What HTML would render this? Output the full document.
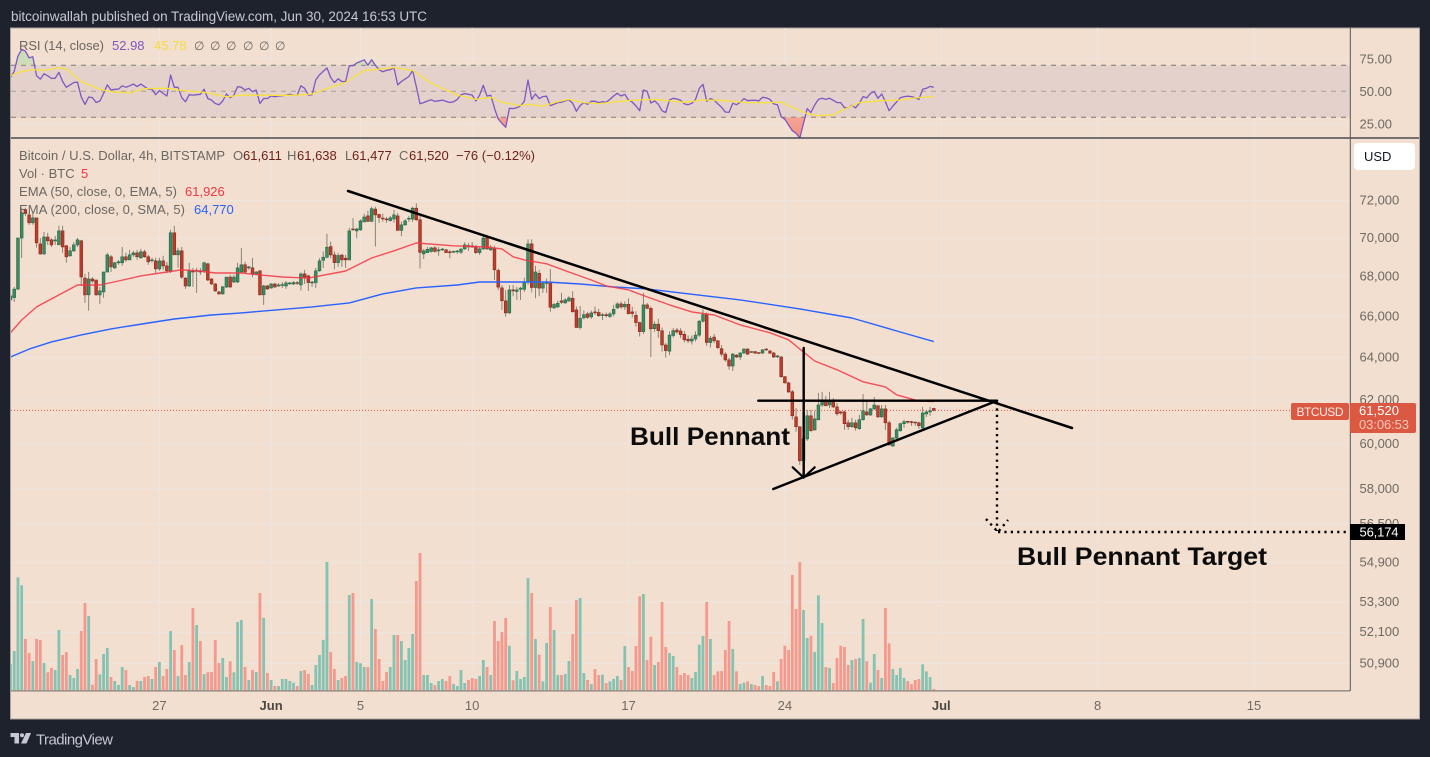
<!DOCTYPE html>
<html lang="en">
<head>
<meta charset="utf-8">
<title>BTCUSD Bull Pennant</title>
<style>
html,body{margin:0;padding:0;background:#1e222d;width:1430px;height:757px;overflow:hidden}
svg{display:block;font-family:"Liberation Sans",sans-serif}
text{white-space:pre}
</style>
</head>
<body>
<svg id="chart" xmlns="http://www.w3.org/2000/svg" width="1430" height="757" viewBox="0 0 1430 757">
  <defs>
    <clipPath id="rsi-clip"><rect x="11" y="28" width="1339" height="110"/></clipPath>
    <clipPath id="price-clip"><rect x="11" y="138" width="1339" height="553"/></clipPath>
    <clipPath id="rsi-over"><rect x="11" y="28" width="1339" height="37.3"/></clipPath>
    <clipPath id="rsi-under"><rect x="11" y="117.3" width="1339" height="21"/></clipPath>
    <linearGradient id="over-grad" x1="0" y1="0" x2="0" y2="1"><stop offset="0" stop-color="#a9d9a0" stop-opacity=".55"/><stop offset="1" stop-color="#a9d9a0" stop-opacity=".08"/></linearGradient>
    <linearGradient id="under-grad" x1="0" y1="0" x2="0" y2="1"><stop offset="0" stop-color="#f7a79c" stop-opacity=".15"/><stop offset="1" stop-color="#f4806f" stop-opacity=".85"/></linearGradient>
  </defs>

  <rect x="0" y="0" width="1430" height="757" fill="#1e222d"/>
  <text x="11" y="21" font-size="13.5" fill="#c6c9d2" textLength="416">bitcoinwallah published on TradingView.com, Jun 30, 2024 16:53 UTC</text>
  <rect x="10.5" y="28" width="1409" height="691" fill="#f2dfcf" stroke="#a9a39d" stroke-width="1"/>

  <g id="grid"></g>
  <rect x="11" y="65.3" width="1339" height="52" fill="#e5d1cb"/>
  <g id="rsi-levels"></g>
  <g id="rsi-pane" clip-path="url(#rsi-clip)"></g>

  <g font-size="13">
    <text x="19" y="50" fill="#6b6763" textLength="85">RSI (14, close)</text>
    <text x="112" y="50" fill="#7e57c2">52.98</text>
    <text x="154" y="50" fill="#f5dc45">45.78</text>
    <text x="194" y="50" fill="#6b6763" font-size="12">∅</text>
    <text x="210" y="50" fill="#6b6763" font-size="12">∅</text>
    <text x="226" y="50" fill="#6b6763" font-size="12">∅</text>
    <text x="243" y="50" fill="#6b6763" font-size="12">∅</text>
    <text x="259" y="50" fill="#6b6763" font-size="12">∅</text>
    <text x="275" y="50" fill="#6b6763" font-size="12">∅</text>
  </g>

  <g font-size="13" fill="#6b6763">
    <text x="19" y="160" textLength="206">Bitcoin / U.S. Dollar, 4h, BITSTAMP</text>
    <text x="233" y="160">O</text><text x="243" y="160" fill="#6e211b">61,611</text>
    <text x="287" y="160">H</text><text x="297" y="160" fill="#6e211b">61,638</text>
    <text x="345" y="160">L</text><text x="352" y="160" fill="#6e211b">61,477</text>
    <text x="399" y="160">C</text><text x="409" y="160" fill="#6e211b">61,520</text>
    <text x="456" y="160" fill="#6e211b" textLength="79">−76 (−0.12%)</text>
    <text x="19" y="178">Vol · BTC</text><text x="81" y="178" fill="#f23645">5</text>
    <text x="19" y="196" textLength="158">EMA (50, close, 0, EMA, 5)</text><text x="185" y="196" fill="#f23645">61,926</text>
    <text x="19" y="214" textLength="166">EMA (200, close, 0, SMA, 5)</text><text x="194" y="214" fill="#2962ff">64,770</text>
  </g>

  <g id="price-pane" clip-path="url(#price-clip)"></g>

  <line x1="11" y1="690.8" x2="1350" y2="690.8" stroke="#9b928b" stroke-width="1.6"/>
  <line x1="11" y1="138" x2="1419" y2="138" stroke="#2a2e39" stroke-width="1.2"/>
  <line x1="1350.3" y1="28" x2="1350.3" y2="691" stroke="#50565e" stroke-width="1"/>
  <g id="axis-labels"></g>

  <g stroke="#000" stroke-linecap="round" fill="none">
    <line x1="348" y1="191" x2="1072" y2="428" stroke-width="2.5"/>
    <line x1="758.3" y1="400.7" x2="997" y2="400.7" stroke-width="2.4"/>
    <line x1="773.3" y1="489" x2="997" y2="400.7" stroke-width="2.4"/>
    <line x1="803.7" y1="348" x2="803.7" y2="477.5" stroke-width="2.4"/>
    <polyline points="792.7,467.3 803.7,477.5 814.7,467.3" stroke-width="2.2"/>
    <line x1="997" y1="402" x2="997" y2="531" stroke-width="2.4" stroke-dasharray="2.2 4.2" stroke-linecap="butt"/>
    <polyline points="986,519 998,532 1008,520" stroke-width="2.4" stroke-dasharray="2.2 4.2" stroke-linecap="butt"/>
    <line x1="998" y1="532" x2="1350" y2="532" stroke-width="2.4" stroke-dasharray="2.2 4.2" stroke-linecap="butt"/>
  </g>
  <text x="630" y="445" font-size="25" font-weight="700" fill="#0c0c0c" textLength="160" lengthAdjust="spacingAndGlyphs">Bull Pennant</text>
  <text x="1017" y="565" font-size="25" font-weight="700" fill="#0c0c0c" textLength="250" lengthAdjust="spacingAndGlyphs">Bull Pennant Target</text>

  <g>
    <rect x="1291" y="403" width="58" height="17" rx="2" fill="#db5842"/>
    <text x="1296.5" y="416" font-size="12" fill="#fde9e4" textLength="47">BTCUSD</text>
  </g>
  <g>
    <rect x="1350" y="403" width="66" height="30" rx="2" fill="#db5842"/>
    <text x="1359" y="415" font-size="13" fill="#fff" textLength="40">61,520</text>
    <text x="1359" y="429" font-size="13" fill="#f6c9bf" textLength="50">03:06:53</text>
  </g>
  <g>
    <rect x="1350" y="524" width="55" height="16" fill="#000"/>
    <text x="1359.5" y="536.5" font-size="13" fill="#fff" textLength="39">56,174</text>
  </g>
  <g>
    <rect x="1354" y="143" width="61" height="27" rx="4" fill="#fff"/>
    <text x="1364" y="161" font-size="13" fill="#131722">USD</text>
  </g>

  <g fill="#c6c9d2">
    <polygon points="10.5,733 19,733 19,743.5 14.5,743.5 14.5,737 10.5,737"/>
    <circle cx="22" cy="735.2" r="2"/>
    <polygon points="26,733 31,733 26.5,743.5 21,743.5"/>
    <text x="36" y="744.5" font-size="15" textLength="77">TradingView</text>
  </g>

<script>
const opens=[66830,66940,67370,70000,71490,71220,70800,71060,69690,69170,70050,69900,69850,69640,70370,69590,69070,69330,69640,69850,67930,67080,67880,67830,67080,67230,68240,69020,68450,68710,68710,69020,68860,69120,69220,68970,69280,69020,68840,68810,68400,68810,68550,68300,70270,69120,69330,67930,67530,68300,68270,68300,68300,68660,67880,67630,67230,67130,67480,67980,67730,67730,68240,68610,68450,68450,68140,68300,67080,67530,67430,67630,67530,67560,67530,67660,67630,67700,67580,68140,68040,67680,67700,68300,68840,69000,69550,69120,68720,69110,68950,68860,70470,70370,70430,70850,71170,70880,71530,71240,71050,71000,70920,71000,71170,70400,70690,71000,71000,71580,70960,69170,69240,69300,69480,69330,69400,69380,69280,69260,69280,69260,69430,69600,69590,69530,69240,69430,70000,69380,69430,68320,67430,66780,66180,67330,67250,67360,67360,67720,69690,67450,68170,67420,67660,67700,66430,66480,66780,66680,66770,66910,66330,65460,65930,66130,65980,66230,66200,66050,66090,66000,66130,66430,66630,66480,66610,66230,66060,65700,65260,66580,66410,65400,65620,65300,64610,64310,65070,65340,65290,65130,64890,64800,64900,65090,65770,66090,64730,64990,64810,64430,64170,63890,63600,64120,64030,64220,64410,64270,64290,64240,64220,64410,64320,64220,64030,64030,63090,62800,62380,61220,60770,59240,60220,61270,60630,61090,61770,62000,61770,61910,61680,61450,61450,60950,60770,60950,60680,61090,61450,61310,61590,61730,61220,61590,60950,59900,60260,60590,60910,61020,61000,60980,60950,60720,61360,61450,61611];
const highs=[67080,67480,70000,71600,71600,71330,71330,71060,70000,70320,70270,70000,70110,70640,70640,69640,69530,69790,70000,69900,68140,68240,67980,67830,67480,68240,69220,69120,68760,68860,69530,69220,69380,69330,69380,69430,69380,69120,68970,68970,68970,69070,68760,70430,70640,69490,69530,67980,68710,68450,68450,68450,68760,68710,67930,67680,67280,67530,67980,68090,68090,68710,69480,68760,68550,68960,68290,68300,67580,67580,67680,67680,67680,67730,67780,67730,67780,67780,68210,68350,68090,67780,68450,68950,69300,70220,69810,69300,69220,69170,69120,70530,71050,70530,70990,71280,71440,71660,71660,71280,71280,71110,71170,71490,71330,70860,71000,71170,71660,71850,71170,69430,69530,69530,69580,69530,69480,69430,69380,69330,69380,69480,69780,69730,69790,69630,69530,70100,70160,69640,69590,68420,67580,67310,67580,67580,67480,67480,67950,69930,69930,68550,68350,67730,67900,68380,66680,66780,67180,66910,67010,67260,66500,66530,66300,66230,66300,66500,66380,66170,66200,66230,66580,66710,66750,66750,66910,66490,66260,65750,67180,66680,66500,65770,65890,65460,64700,65270,65430,65440,65430,65280,65070,65070,65270,65830,66360,66200,65050,65140,64860,64610,64260,64000,64220,64170,64260,64460,64460,64320,64320,64270,64410,64460,64370,64270,64120,64080,63130,62850,62470,61630,60800,60630,61540,61540,61500,62330,62380,62190,62380,62090,61860,61500,61500,61090,61180,61090,61310,62280,61950,61630,62140,61770,61770,61770,61040,60310,60720,60950,61090,61040,61040,61000,61000,61680,61540,61680,61638];
const lows=[66580,66730,67330,68960,71170,70690,70700,69500,69120,69120,69640,69530,69640,69640,69220,68710,69020,69280,69530,67530,66680,66290,67680,67030,66630,66930,68240,68240,68400,68610,68560,68760,68860,69020,68860,68910,68970,68610,68710,68140,68300,68350,68190,68190,69120,68450,67890,67380,67480,67480,67180,68090,68190,67780,67580,67230,67080,67080,67430,67430,67680,67680,68190,68190,68350,67980,68090,67080,66580,67330,67390,67430,67480,67430,67380,67580,67580,67580,67300,67630,67280,67480,67430,68250,68450,68950,68950,68380,68500,68500,68450,68860,70370,69980,70370,70850,70850,70850,69550,70800,70860,70800,70860,70800,70400,70100,70640,70850,70850,70900,68420,68900,69220,69240,69240,69070,69330,69220,68950,69220,69170,69170,69380,69330,69480,69170,69120,69380,69380,69330,67830,67330,66330,65990,66130,67010,66830,66830,67230,67600,67200,66910,67010,67180,67180,66240,66380,66430,66630,66640,66780,66190,65460,65360,65860,65890,65890,66080,65980,65830,65960,65930,66000,66380,66380,66330,66130,65950,65500,65020,65140,66360,64030,65250,64950,64290,64000,64120,64970,65150,64940,64730,64700,64630,64780,65000,65700,64570,64480,64700,64400,64050,63800,63420,63360,63980,63890,64170,64120,64220,64170,64170,64170,64320,64170,63980,63980,63040,62770,62330,61100,60540,59060,58700,60130,60540,60590,61090,61680,61730,61630,61630,61270,61310,60630,60630,60720,60590,60630,61040,61270,61270,61540,61180,61180,60630,59900,59860,60220,60540,60720,60910,60820,60820,60680,60630,61220,61270,61477];
const closes=[67030,67370,70000,71330,71330,70800,71060,69740,69170,70050,69850,69640,69900,70370,69530,69020,69330,69640,69900,67980,67080,67880,67780,67080,67280,68240,69120,68500,68710,68760,69020,68860,69120,69220,69020,69280,69020,68760,68860,68400,68810,68550,68300,70270,69120,69330,67980,67530,68300,68240,68320,68240,68710,67830,67630,67280,67130,67480,67980,67480,67980,68450,68610,68240,68500,68140,68240,67080,67530,67380,67630,67480,67580,67600,67680,67680,67700,67660,68140,67970,67700,67730,68300,68810,69000,69520,69120,68720,69090,68860,68860,70370,70430,70470,70900,71110,70880,71550,71220,71080,71010,70980,71060,71220,70400,70690,70900,71040,71580,70960,69250,69330,69410,69480,69300,69380,69420,69240,69240,69300,69320,69420,69640,69530,69530,69240,69430,70000,69430,69500,68350,67470,66780,66180,67330,67280,67330,67420,67720,69690,67450,68240,67420,67660,67730,66460,66600,66660,66710,66830,66930,66240,65460,65910,66090,65960,66180,66180,66040,66090,66040,66130,66360,66630,66480,66610,66140,66150,65700,65260,66580,66410,65400,65620,65300,64610,64340,65090,65310,65240,65110,64860,64810,64900,65090,65770,66090,64730,64940,64810,64480,64170,63890,63600,64170,64030,64220,64410,64170,64290,64220,64220,64370,64370,64220,64030,64080,63090,62800,62380,61270,60770,59240,60220,61270,60590,61130,61770,61950,61730,61910,61680,61360,61400,60910,60770,60950,60720,61090,61500,61310,61590,61770,61220,61590,60950,59950,60260,60630,60910,61000,60980,60980,60950,60820,61400,61450,61500,61520];
const volumes=[78,117,338,314,153,111,87,153,150,81,53,66,60,180,105,114,45,36,63,177,261,222,16,93,47,108,126,39,27,15,69,60,15,9,27,27,39,42,33,69,84,42,63,177,120,42,135,45,84,246,195,147,48,53,54,150,81,96,39,86,53,204,210,69,30,60,54,291,217,51,30,12,12,33,33,27,22,12,57,60,48,15,75,105,150,384,114,63,30,36,42,285,291,84,80,69,69,273,183,93,27,54,69,165,165,147,90,126,168,327,411,45,45,21,15,27,33,27,42,18,12,60,21,30,36,33,42,90,69,45,207,147,174,216,133,29,57,33,39,336,291,153,106,26,141,249,180,45,45,48,87,168,270,276,51,30,18,63,45,46,21,26,33,42,30,132,69,57,132,281,288,90,160,75,84,264,129,111,102,69,45,51,45,36,54,136,162,264,153,45,56,57,120,207,123,56,18,22,26,18,15,12,42,15,12,54,26,93,133,120,345,243,384,240,156,163,114,284,201,69,66,21,96,133,129,75,90,93,96,213,86,22,108,60,36,246,140,63,45,66,36,27,18,30,33,77,56,39,3];
const rsiValues=[60.6,65.3,77,82.2,80.9,75.7,76.5,61.9,59.4,63.5,61.9,59.9,60.1,64.5,57.5,53.1,54.9,56.8,57,45.8,39.9,45.6,45.1,41.4,42.5,48.4,54.9,51,51.6,51.6,54.2,53.1,54.2,55.5,53.6,55.5,53.6,51.6,51.6,47.4,50.5,48.4,46.4,62.5,53.1,53.1,45.1,41.9,47.4,47.1,47.4,47.7,51.6,44.5,43.2,40.6,39.6,42.5,47.9,45.1,47.1,53.6,53.1,51,52.3,49.7,51,40.6,44.5,44.5,46.4,45.8,46.4,46.6,47.1,47.7,47.1,47.1,54.2,52.3,47.1,47.4,58.8,62.7,65.3,67.9,60.6,56.8,59.6,57.5,57.5,69.7,69.7,71.8,72.9,74.2,70,74.2,70,66.6,65.1,66.1,66.6,67.9,54.9,57.5,59.4,61.4,66.1,53.6,40.4,41.4,42.5,43.5,42.2,42.7,43.2,42.2,41.4,41.9,43.8,47.4,48.2,47.7,47.1,42.5,47.1,54.6,46.4,46.9,36.9,28.7,25.4,22.3,36.9,36.7,37.4,38.7,42.3,58.7,43.8,47.9,44.4,45.9,46.2,39,40,41.3,41.5,42.6,43.3,40.8,34.6,39,41.3,40,42.3,42.3,41.3,42.1,41.5,43.8,46.4,48.5,46.4,47.7,43.3,41.8,38.7,35.1,51,50,41,42.6,40,35.1,33.6,43.3,44.6,44.1,43.1,40.3,39.7,40.8,43.8,52.3,55.4,42.3,44.4,43.3,40.3,37.7,34.1,33.8,40.8,39.7,41.5,44.4,42.8,43.1,43.1,42.6,45.4,44.9,43.8,40.3,39.7,30.5,28.5,24.1,19.7,17.7,14.1,25.4,36.7,33.6,39.5,43.8,44.6,43.8,44.6,43.1,41.3,41.3,37.4,37.4,39.2,37.2,40.8,45.9,44.9,48.5,49.7,44.6,47.9,42.1,35.1,38.7,41.8,45.1,45.9,46.2,45.9,45.1,43.8,51.5,52.3,53.8,53];
const rsiMaBars=[0,3,6,9,13,15,19,24,27,32,36,42,47,52,58,62,69,76,81,86,90,95,98,103,108,113,120,125,129,132,137,139,143,146,150,154,158,163,168,173,181,186,191,198,202,207,210,214,217,221,224,228,234,239,243,248];
const rsiMaValues=[61.9,65.3,66.6,66.1,68.2,67.1,57.5,51.6,49.7,48.7,52.1,52.3,50.3,49.2,45.8,47.1,46.9,46.9,47.9,53.1,56.8,66.1,66.6,68.2,66.1,56.2,47.1,43.8,45.4,41.5,39,40,38.5,41.3,43.8,41.3,40.5,42.1,43.3,43.8,41.5,43.3,43.1,41.3,41,41.8,37.7,32.8,31.3,32,36.2,41.3,42.8,43.3,44.9,45.9];
const ema50Bars=[0,3,7,12,18,24,29,35,42,46,51,55,62,67,73,80,90,97,103,109,119,128,132,135,138,144,150,156,160,166,171,177,183,189,196,204,209,213,216,222,229,235,238,244,248];
const ema50Values=[65200,65830,66480,66980,67580,67580,67780,68040,68240,68350,68290,68190,68190,68090,67985,67930,68290,68960,69330,69740,69590,69530,69430,69020,68860,68660,68240,67830,67530,67330,66980,66580,66230,66075,65590,65200,64860,64270,63840,63420,62850,62610,62240,61950,61926];
const ema200Bars=[0,5,11,19,27,37,44,54,62,81,91,100,109,120,126,135,144,153,162,171,180,196,212,226,239,248];
const ema200Values=[64030,64410,64760,65100,65390,65680,65880,66075,66180,66480,66680,67130,67430,67580,67730,67730,67730,67630,67480,67380,67180,66830,66380,65930,65240,64770];
const priceTicks=[72000,70000,68000,66000,64000,62000,60000,58000,56500,54900,53300,52100,50900];
const rsiTicks=[75,50,25];
const rsiLevels=[70,50,30];
const timeLabels=['27','Jun','5','10','17','24','Jul','8','15'];
const timeBars=[40,70,94,124,166,208,250,292,334];
const lastPrice=61520;

const NS='http://www.w3.org/2000/svg';
function xAt(i){return 10.5+3.723*i;}
function yPrice(p){return 400+1335*Math.log(62000/p);}
function yVol(v){return 690-v/3;}
function yRsi(r){return 91.3+(50-r)*1.3;}
function make(tag,attrs,parent,txt){
  const e=document.createElementNS(NS,tag);
  for(const k in attrs)e.setAttribute(k,attrs[k]);
  if(txt!==undefined)e.textContent=txt;
  parent.appendChild(e);
  return e;
}
const grid=document.getElementById('grid');
const rsiLv=document.getElementById('rsi-levels');
const rsiPane=document.getElementById('rsi-pane');
const pricePane=document.getElementById('price-pane');
const axisLabels=document.getElementById('axis-labels');
const GRID='#ece6e3';

timeLabels.forEach(function(lab,k){
  const x=xAt(timeBars[k]);
  const v=make('line',{x1:x,x2:x,y1:28,y2:691,stroke:GRID,'stroke-width':1},grid);
  
  
  const bold=(lab==='Jun'||lab==='Jul');
  const t=make('text',{x:x,y:710,'font-size':13,'text-anchor':'middle',fill:bold?'#4c4945':'#6d6965','font-weight':bold?700:400},axisLabels,lab);
  
  
});
priceTicks.forEach(function(p){
  const y=yPrice(p);
  const g=make('line',{x1:11,x2:1350,y1:y,y2:y,stroke:GRID,'stroke-width':1},grid);
  
  
  const t=make('text',{x:1359.5,y:y+4,'font-size':13,fill:'#6d6965'},axisLabels,p.toLocaleString('en-US'));
  
  
});
rsiTicks.forEach(function(r){
  const y=yRsi(r);
  const g=make('line',{x1:11,x2:1350,y1:y,y2:y,stroke:GRID,'stroke-width':1},grid);
  
  
  const t=make('text',{x:1359.5,y:y+4.5,'font-size':13,fill:'#6d6965'},axisLabels,r.toFixed(2));
  
  
});
rsiLevels.forEach(function(r,k){
  const y=yRsi(r);
  const l=make('line',{x1:11,x2:1350,y1:y,y2:y,stroke:k===1?'#a79d98':'#7a7673','stroke-width':1,'stroke-dasharray':'5 5'},rsiLv);
  
  
});

function path(bars,vals,yFn){
  return vals.map(function(v,k){return (k?'L':'M')+xAt(bars?bars[k]:k).toFixed(1)+' '+yFn(v).toFixed(1);}).join('');
}
const rsiPath=path(null,rsiValues,yRsi);
const lastX=xAt(rsiValues.length-1).toFixed(1), firstX=xAt(0).toFixed(1);
const overFill=make('path',{d:rsiPath+'L'+lastX+' 65.3L'+firstX+' 65.3Z',fill:'url(#over-grad)','clip-path':'url(#rsi-over)'},rsiPane);


const underFill=make('path',{d:rsiPath+'L'+lastX+' 117.3L'+firstX+' 117.3Z',fill:'url(#under-grad)','clip-path':'url(#rsi-under)'},rsiPane);


const rsiLine=make('path',{d:rsiPath,fill:'none',stroke:'#7e57c2','stroke-width':1.3,'stroke-linejoin':'round'},rsiPane);


const rsiMaLine=make('path',{d:path(rsiMaBars,rsiMaValues,yRsi),fill:'none',stroke:'#f7e13e','stroke-width':1.3,'stroke-linejoin':'round'},rsiPane);



const priceLine=make('line',{x1:11,x2:1291,y1:yPrice(lastPrice),y2:yPrice(lastPrice),stroke:'#db5842','stroke-width':1,'stroke-dasharray':'1 2'},pricePane);



volumes.forEach(function(v,i){
  const up=closes[i]>=opens[i];
  const y=yVol(v);
  const b=make('rect',{x:(xAt(i)-1.4).toFixed(2),y:y.toFixed(1),width:2.8,height:(690-y).toFixed(1),fill:up?'#86c2b2':'#f3998e'},pricePane);
  
  
});
opens.forEach(function(o,i){
  const c=closes[i], up=c>=o, x=xAt(i);
  const wick=make('line',{x1:x.toFixed(2),x2:x.toFixed(2),y1:yPrice(highs[i]).toFixed(1),y2:yPrice(lows[i]).toFixed(1),stroke:'#7d7a70','stroke-width':0.9},pricePane);
  
  
  const top=yPrice(Math.max(o,c)), bot=yPrice(Math.min(o,c));
  const body=make('rect',{x:(x-1.4).toFixed(2),y:top.toFixed(1),width:2.8,height:Math.max(bot-top,0.8).toFixed(1),fill:up?'#3f8a63':'#bb3d2c',stroke:up?'#1f6a45':'#8d2a1e','stroke-width':0.6},pricePane);
  
  
});
const ema200Line=make('path',{d:path(ema200Bars,ema200Values,yPrice),fill:'none',stroke:'#2962ff','stroke-width':1.4,'stroke-linejoin':'round'},pricePane);


const ema50Line=make('path',{d:path(ema50Bars,ema50Values,yPrice),fill:'none',stroke:'#f23645','stroke-width':1.4,'stroke-linejoin':'round','stroke-opacity':.85},pricePane);


</script>
</svg>
</body>
</html>
